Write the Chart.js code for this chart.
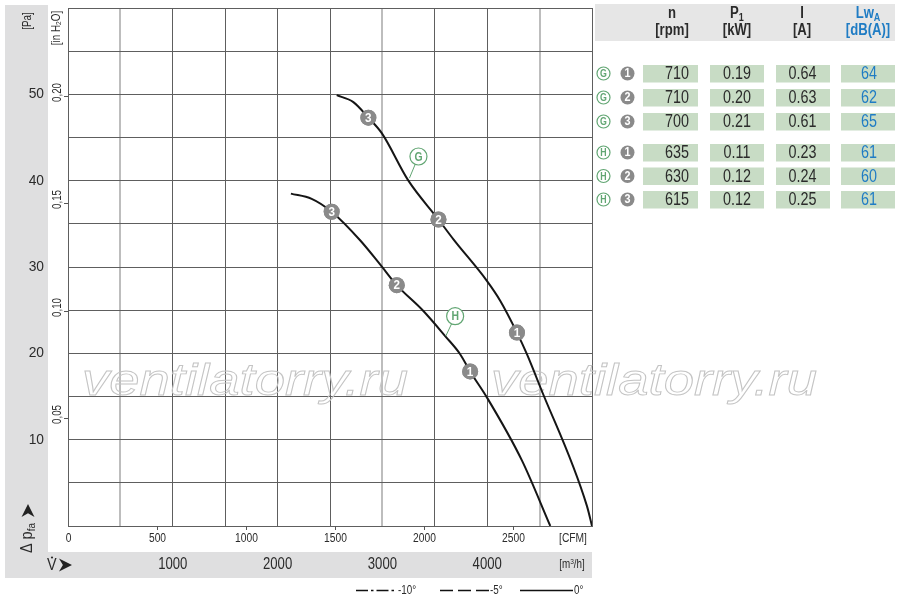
<!DOCTYPE html>
<html>
<head>
<meta charset="utf-8">
<script src="https://cdn.jsdelivr.net/npm/chart.js@4/dist/chart.umd.min.js"></script>
<style>
html,body{margin:0;padding:0;background:#fff;}
#wrap{width:900px;height:600px;position:relative;}
</style>
</head>
<body>
<div id="wrap"><canvas id="c" width="900" height="600"></canvas></div>
<script>
// ---- data (x: flow in m³/h, y: static pressure in Pa) ----
const gFlow = [2564, 2723, 2866, 2994, 3248, 3535, 3678, 3997, 4124, 4284, 4379, 4506, 4952, 5000];
const gPressure = [49.9, 49.1, 47.3, 45.5, 40.0, 35.5, 33.2, 28.4, 26.1, 22.4, 19.9, 16.1, 2.3, 0];
const hFlow = [2127, 2325, 2516, 2787, 2978, 3137, 3391, 3599, 3742, 3837, 3997, 4331, 4602];
const hPressure = [38.5, 37.9, 36.4, 33.1, 30.3, 27.9, 24.9, 22.0, 19.9, 17.9, 14.9, 7.6, 0];

const gMarkerFlow = [4284, 3535, 2866];
const gMarkerPressure = [22.4, 35.5, 47.3];
const hMarkerFlow = [3837, 3137, 2516];
const hMarkerPressure = [17.9, 27.9, 36.4];
const markerNumbers = ['1', '2', '3'];

const curveTagName = ['G', 'H'];
const curveTagFlow = [3344, 3694];
const curveTagPressure = [42.8, 24.3];
const curveTagLeaderFlow = [3258, 3605];
const curveTagLeaderPressure = [40.3, 22.0];

const paTicks = [10, 20, 30, 40, 50];
const inH2OTicks = [0.05, 0.10, 0.15, 0.20];
const inH2OLabels = ['0,05', '0,10', '0,15', '0,20'];
const cfmTicks = [0, 500, 1000, 1500, 2000, 2500];
const m3hTicks = [1000, 2000, 3000, 4000];

const tableCurve = ['G', 'G', 'G', 'H', 'H', 'H'];
const tablePoint = ['1', '2', '3', '1', '2', '3'];
const speedRpm = ['710', '710', '700', '635', '630', '615'];
const powerKw = ['0.19', '0.20', '0.21', '0.11', '0.12', '0.12'];
const currentA = ['0.64', '0.63', '0.61', '0.23', '0.24', '0.25'];
const soundDb = ['64', '62', '65', '61', '60', '61'];

const legendLabels = ['-10°', '-5°', '0°'];

// ---- helpers ----
const SANS = "'Liberation Sans','Arial',sans-serif";
const SX = 0.82; // horizontal squeeze for condensed look
const GREEN = '#62a673';
const BLUE = '#1f7cc4';
const TXT = '#2b2b2b';
const GRAY_BG = '#dfdfe0';
const pts = (xs, ys) => xs.map((x, i) => ({x: x, y: ys[i]}));

// parts: [{t, size, bold, dy, color}]
function T(ctx, parts, x, y, align, sx) {
  sx = sx || SX;
  let w = 0;
  parts.forEach(p => {
    p.f = (p.bold ? 'bold ' : '') + p.size + 'px ' + SANS;
    ctx.font = p.f;
    p.w = ctx.measureText(p.t).width;
    w += p.w;
  });
  ctx.save();
  ctx.translate(x, y);
  ctx.scale(sx, 1);
  let cx = align === 'center' ? -w / 2 : (align === 'right' ? -w : 0);
  ctx.textAlign = 'left';
  ctx.textBaseline = 'middle';
  parts.forEach(p => {
    ctx.font = p.f;
    ctx.fillStyle = p.color || TXT;
    ctx.fillText(p.t, cx, p.dy || 0);
    cx += p.w;
  });
  ctx.restore();
  return w * sx;
}
function arrowHead(ctx, x, y, len, half) {
  ctx.beginPath();
  ctx.moveTo(x + len, y);
  ctx.lineTo(x, y - half);
  ctx.lineTo(x + len * 0.3, y);
  ctx.lineTo(x, y + half);
  ctx.closePath();
  ctx.fill();
}
function grayBall(ctx, x, y, r, txt, fs) {
  ctx.beginPath();
  ctx.arc(x, y, r, 0, Math.PI * 2);
  ctx.fillStyle = '#8a8a8a';
  ctx.fill();
  T(ctx, [{t: txt, size: fs, bold: true, color: '#fff'}], x, y + 0.5, 'center', 0.9);
}
function greenTag(ctx, x, y, r, txt, fs) {
  ctx.beginPath();
  ctx.arc(x, y, r, 0, Math.PI * 2);
  ctx.fillStyle = '#fff';
  ctx.fill();
  ctx.strokeStyle = GREEN;
  ctx.lineWidth = 1.2;
  ctx.stroke();
  T(ctx, [{t: txt, size: fs, bold: true, color: GREEN}], x, y + 0.5, 'center', 0.8);
}

const decor = {
  id: 'decor',
  beforeDraw(chart) {
    const ctx = chart.ctx;
    ctx.save();
    ctx.fillStyle = '#fff';
    ctx.fillRect(0, 0, 900, 600);
    ctx.fillStyle = GRAY_BG;
    ctx.fillRect(5, 5, 43, 573);
    ctx.fillRect(5, 552, 587, 26);
    ctx.fillStyle = '#e6e6e6';
    ctx.fillRect(595, 4, 300, 37);
    ctx.restore();
  },
  beforeDatasetsDraw(chart) {
    const ctx = chart.ctx;
    ctx.save();
    ctx.font = 'italic 300 44px ' + SANS;
    const w = ctx.measureText('ventilatorry.ru').width;
    ctx.strokeStyle = '#c4c4c4';
    ctx.lineWidth = 0.9;
    [82, 491].forEach(x0 => {
      ctx.save();
      ctx.translate(x0, 395);
      ctx.scale(326 / w, 1);
      ctx.textAlign = 'left';
      ctx.textBaseline = 'alphabetic';
      ctx.strokeText('ventilatorry.ru', 0, 0);
      ctx.restore();
    });
    ctx.restore();
  },
  afterDatasetsDraw(chart) {
    const ctx = chart.ctx;
    const xs = chart.scales.x, ys = chart.scales.y;
    const area = chart.chartArea;
    ctx.save();

    // marker numbers
    [2, 3].forEach(di => {
      const meta = chart.getDatasetMeta(di);
      meta.data.forEach((el, i) => grayBall(ctx, el.x, el.y, 8, markerNumbers[i], 13));
    });

    // curve tags G / H with leader
    curveTagName.forEach((n, i) => {
      const tx = xs.getPixelForValue(curveTagFlow[i]);
      const ty = ys.getPixelForValue(curveTagPressure[i]);
      const lx = xs.getPixelForValue(curveTagLeaderFlow[i]);
      const ly = ys.getPixelForValue(curveTagLeaderPressure[i]);
      const ang = Math.atan2(ly - ty, lx - tx);
      ctx.beginPath();
      ctx.moveTo(tx + Math.cos(ang) * 8.5, ty + Math.sin(ang) * 8.5);
      ctx.lineTo(lx, ly);
      ctx.strokeStyle = GREEN;
      ctx.lineWidth = 1;
      ctx.stroke();
      greenTag(ctx, tx, ty, 8.5, n, 13);
    });

    // Pa labels
    paTicks.forEach(v => T(ctx, [{t: String(v), size: 15}], 44, ys.getPixelForValue(v), 'right', 0.92));

    // in H2O ticks and labels
    ctx.strokeStyle = '#555';
    ctx.lineWidth = 1;
    inH2OTicks.forEach((v, i) => {
      const py = Math.round(ys.getPixelForValue(v * 249.09)) + 0.5;
      ctx.beginPath();
      ctx.moveTo(area.left - 4, py);
      ctx.lineTo(area.left, py);
      ctx.stroke();
      ctx.save();
      ctx.translate(58, py - 4);
      ctx.rotate(-Math.PI / 2);
      T(ctx, [{t: inH2OLabels[i], size: 12}], 0, 0, 'center');
      ctx.restore();
    });

    // [Pa] and [in H2O] units (rotated)
    ctx.save();
    ctx.translate(28, 21);
    ctx.rotate(-Math.PI / 2);
    T(ctx, [{t: '[Pa]', size: 12}], 0, 0, 'center');
    ctx.restore();
    ctx.save();
    ctx.translate(57, 28);
    ctx.rotate(-Math.PI / 2);
    T(ctx, [{t: '[in H', size: 12}, {t: '2', size: 8, dy: 2}, {t: 'O]', size: 12}], 0, 0, 'center');
    ctx.restore();

    // Δ p_fa ➤ (rotated)
    ctx.save();
    ctx.translate(28, 553);
    ctx.rotate(-Math.PI / 2);
    const wq = T(ctx, [{t: 'Δ p', size: 16}, {t: 'fa', size: 11, dy: 4}], 0, 0, 'left', 0.9);
    ctx.fillStyle = '#222';
    arrowHead(ctx, wq + 6, 0, 13, 6.5);
    ctx.restore();

    // V̇ ➤
    T(ctx, [{t: 'V', size: 16}], 47, 566, 'left', 0.9);
    ctx.fillStyle = TXT;
    ctx.beginPath();
    ctx.arc(52, 557.5, 1.1, 0, Math.PI * 2);
    ctx.fill();
    ctx.fillStyle = '#222';
    arrowHead(ctx, 59, 565, 13, 6.5);

    // CFM ticks & labels
    ctx.strokeStyle = '#555';
    ctx.lineWidth = 1;
    cfmTicks.forEach(v => {
      const px = Math.round(xs.getPixelForValue(v * 1.699)) + 0.5;
      if (v > 0) {
        ctx.beginPath();
        ctx.moveTo(px, area.bottom);
        ctx.lineTo(px, area.bottom + 4);
        ctx.stroke();
      }
      T(ctx, [{t: String(v), size: 12.5}], px, 538.5, 'center');
    });
    T(ctx, [{t: '[CFM]', size: 12.5}], 573, 538.5, 'center');

    // m³/h labels
    m3hTicks.forEach(v => T(ctx, [{t: String(v), size: 16}], xs.getPixelForValue(v), 565, 'center'));
    T(ctx, [{t: '[m', size: 12}, {t: '3', size: 8, dy: -3}, {t: '/h]', size: 12}], 572, 565, 'center');

    // bottom legend
    ctx.strokeStyle = '#111';
    ctx.lineWidth = 1.6;
    const ly = 590.5;
    ctx.setLineDash([12, 3, 2.5, 3]);
    ctx.beginPath(); ctx.moveTo(356, ly); ctx.lineTo(397, ly); ctx.stroke();
    ctx.setLineDash([13, 5]);
    ctx.beginPath(); ctx.moveTo(440, ly); ctx.lineTo(489, ly); ctx.stroke();
    ctx.setLineDash([]);
    ctx.beginPath(); ctx.moveTo(520, ly); ctx.lineTo(573, ly); ctx.stroke();
    T(ctx, [{t: legendLabels[0], size: 12}], 398, ly, 'left');
    T(ctx, [{t: legendLabels[1], size: 12}], 490, ly, 'left');
    T(ctx, [{t: legendLabels[2], size: 12}], 574, ly, 'left');

    // ---- table ----
    const H = 16, S = 11;
    T(ctx, [{t: 'n', size: H, bold: true}], 672, 14, 'center');
    T(ctx, [{t: '[rpm]', size: H, bold: true}], 672, 31, 'center');
    T(ctx, [{t: 'P', size: H, bold: true}, {t: '1', size: S, bold: true, dy: 4}], 737, 14, 'center');
    T(ctx, [{t: '[kW]', size: H, bold: true}], 737, 31, 'center');
    T(ctx, [{t: 'I', size: H, bold: true}], 802, 14, 'center');
    T(ctx, [{t: '[A]', size: H, bold: true}], 802, 31, 'center');
    T(ctx, [{t: 'Lw', size: H, bold: true, color: BLUE}, {t: 'A', size: S, bold: true, dy: 4, color: BLUE}], 868, 14, 'center');
    T(ctx, [{t: '[dB(A)]', size: H, bold: true, color: BLUE}], 868, 31, 'center');

    const rowY = [73.5, 97.5, 121.5, 152.5, 176, 199.5];
    const cells = [[643, 55], [710, 54], [776, 54], [841, 54]];
    rowY.forEach((y, r) => {
      greenTag(ctx, 603.5, y, 6.5, tableCurve[r], 11);
      grayBall(ctx, 627.5, y, 7, tablePoint[r], 12);
      ctx.fillStyle = '#c8dcc5';
      cells.forEach(c => ctx.fillRect(c[0], y - 8.5, c[1], 17.5));
      T(ctx, [{t: speedRpm[r], size: 17.5}], 689, y + 1, 'right');
      T(ctx, [{t: powerKw[r], size: 17.5}], 737, y + 1, 'center');
      T(ctx, [{t: currentA[r], size: 17.5}], 802.5, y + 1, 'center');
      T(ctx, [{t: soundDb[r], size: 17.5, color: BLUE}], 869, y + 1, 'center');
    });

    ctx.restore();
  }
};

const lightX = [500, 3000, 4500];

new Chart(document.getElementById('c'), {
  type: 'line',
  data: {
    datasets: [
      {data: pts(gFlow, gPressure), borderColor: '#151515', borderWidth: 2, pointRadius: 0, cubicInterpolationMode: 'monotone', fill: false},
      {data: pts(hFlow, hPressure), borderColor: '#151515', borderWidth: 2, pointRadius: 0, cubicInterpolationMode: 'monotone', fill: false},
      {data: pts(gMarkerFlow, gMarkerPressure), showLine: false, pointRadius: 8, pointBackgroundColor: '#8a8a8a', pointBorderWidth: 0},
      {data: pts(hMarkerFlow, hMarkerPressure), showLine: false, pointRadius: 8, pointBackgroundColor: '#8a8a8a', pointBorderWidth: 0}
    ]
  },
  options: {
    responsive: false,
    animation: false,
    devicePixelRatio: 1,
    layout: {padding: {left: 68, top: 5, right: 308, bottom: 74}},
    plugins: {legend: {display: false}, tooltip: {enabled: false}},
    events: [],
    scales: {
      x: {
        type: 'linear', min: 0, max: 5000,
        ticks: {display: false, stepSize: 500},
        grid: {
          drawTicks: false,
          color: ctx => lightX.includes(ctx.tick && ctx.tick.value) ? '#bdbdbd' : '#5e5e5e',
          lineWidth: ctx => lightX.includes(ctx.tick && ctx.tick.value) ? 2 : 1
        },
        border: {display: true, color: '#5e5e5e', width: 1}
      },
      y: {
        type: 'linear', min: 0, max: 60,
        ticks: {display: false, stepSize: 5},
        grid: {drawTicks: false, color: '#5e5e5e', lineWidth: 1},
        border: {display: true, color: '#5e5e5e', width: 1}
      }
    }
  },
  plugins: [decor]
});
</script>
</body>
</html>
